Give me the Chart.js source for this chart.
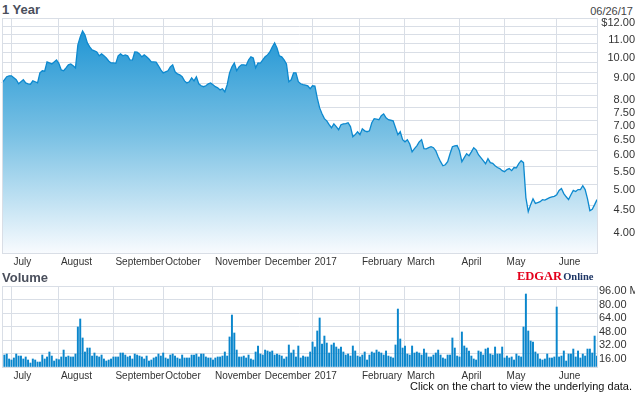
<!DOCTYPE html>
<html>
<head>
<meta charset="utf-8">
<script src="https://cdn.jsdelivr.net/npm/chart.js@4.4.1/dist/chart.umd.min.js"></script>
<style>
    body { margin: 0; background: #fff; font-family: "Liberation Sans", Arial, sans-serif; }
    #wrap { position: relative; width: 635px; height: 395px; overflow: hidden; }
    canvas { position: absolute; left: 0; }
    #priceChart { top: 0; }
    #volChart { top: 270px; }
    .ttl { position: absolute; left: 2px; font: bold 13px/15px "Liberation Sans", Arial, sans-serif; color: #4a4f5c; }
    #date { position: absolute; right: 2px; top: 5px; font: 11px/13px "Liberation Sans", Arial, sans-serif; color: #444; }
    #edgar { position: absolute; left: 517px; top: 268px; font-family: "Liberation Serif", "Times New Roman", serif; font-weight: bold; line-height: 14px; white-space: nowrap; }
    #edgar .e { color: #e3001b; font-size: 12.5px; }
    #edgar .o { color: #1d3565; font-size: 10.5px; margin-left: 1px; }
    #note { position: absolute; right: 3px; top: 380px; font: 11px/13px "Liberation Sans", Arial, sans-serif; color: #111; }
</style>
</head>
<body>
<div id="wrap">
    <div class="ttl" style="top:2px">1 Year</div>
    <div id="date">06/26/17</div>
    <canvas id="priceChart" width="635" height="272"></canvas>
    <div class="ttl" style="top:270px">Volume</div>
    <div id="edgar"><span class="e">EDGAR</span><span class="o">Online</span></div>
    <canvas id="volChart" width="635" height="115"></canvas>
    <div id="note">Click on the chart to view the underlying data.</div>
</div>
<script>
// trading days 06/27/16 - 06/26/17
var holidays = ['2016-07-04', '2016-09-05', '2016-11-24', '2016-12-26', '2017-01-02',
    '2017-01-16', '2017-02-20', '2017-04-14', '2017-05-29'];

var prices = [
    8.54, 8.68, 8.82, 8.86, 8.86, 8.77, 8.68, 8.50, 8.59, 8.68,
    8.54, 8.50, 8.48, 8.63, 8.59, 8.54, 9.00, 9.10, 9.08, 9.53,
    9.48, 9.43, 9.53, 9.63, 9.45, 9.14, 9.10, 9.24, 9.39, 9.43,
    9.34, 9.24, 10.42, 10.87, 11.21, 10.98, 10.53, 10.31, 10.15, 10.10,
    10.04, 9.84, 9.94, 9.84, 9.73, 9.58, 9.48, 9.48, 9.46, 9.84,
    9.94, 9.84, 9.89, 9.84, 9.63, 9.62, 10.04, 10.03, 9.94, 9.79,
    9.89, 9.79, 9.68, 9.53, 9.53, 9.52, 9.34, 9.14, 9.00, 9.05,
    9.10, 9.29, 9.39, 9.05, 8.95, 8.91, 8.82, 8.63, 8.54, 8.59,
    8.77, 8.63, 8.82, 8.50, 8.41, 8.37, 8.41, 8.50, 8.54, 8.46,
    8.37, 8.32, 8.23, 8.28, 8.15, 8.46, 9.00, 9.29, 9.48, 9.10,
    9.29, 9.39, 9.39, 9.36, 9.63, 9.79, 9.73, 9.24, 9.48, 9.47,
    9.63, 9.79, 9.89, 10.04, 10.31, 10.53, 10.26, 9.84, 9.79, 9.63,
    9.43, 8.59, 8.68, 9.00, 9.00, 8.59, 8.50, 8.46, 8.44, 8.41,
    8.28, 8.41, 8.40, 7.88, 7.49, 7.26, 7.08, 7.00, 6.86, 6.75,
    6.89, 6.79, 6.68, 6.86, 6.89, 6.90, 6.93, 6.79, 6.44, 6.51,
    6.61, 6.51, 6.71, 6.64, 6.61, 6.64, 6.93, 7.08, 7.06, 7.04,
    7.19, 7.26, 7.11, 7.04, 7.02, 7.00, 6.75, 6.51, 6.61, 6.34,
    6.27, 6.34, 6.20, 5.95, 6.05, 6.14, 6.27, 6.34, 6.05, 6.04,
    6.08, 6.11, 6.08, 5.98, 5.80, 5.65, 5.53, 5.56, 5.65, 5.89,
    6.11, 6.14, 6.15, 5.98, 5.65, 5.77, 5.89, 5.83, 5.95, 6.08,
    6.01, 5.86, 5.77, 5.68, 5.59, 5.74, 5.62, 5.60, 5.53, 5.48,
    5.45, 5.39, 5.36, 5.42, 5.45, 5.39, 5.48, 5.47, 5.59, 5.68,
    5.62, 4.68, 4.35, 4.51, 4.65, 4.54, 4.56, 4.58, 4.63, 4.62,
    4.65, 4.68, 4.70, 4.71, 4.75, 4.86, 4.91, 4.78, 4.70, 4.63,
    4.75, 4.86, 4.83, 4.88, 4.88, 4.98, 4.88, 4.65, 4.37, 4.40,
    4.51, 4.63
];

// millions of shares
var volumes = [
    15.4, 14.2, 15.4, 9.5, 8.3, 10.7, 15.4, 13.0, 13.0, 9.5,
    11.9, 8.3, 4.7, 9.5, 8.3, 5.9, 5.9, 14.2, 9.5, 11.9,
    17.8, 13.0, 7.1, 9.5, 8.7, 11.9, 20.1, 11.9, 13.0, 11.9,
    11.9, 15.4, 47.4, 56.9, 34.4, 17.8, 22.5, 22.5, 13.0, 16.6,
    13.0, 11.9, 14.2, 9.5, 7.1, 8.3, 9.5, 11.9, 11.9, 11.9,
    16.6, 16.6, 14.2, 11.9, 13.0, 9.5, 15.4, 14.2, 13.0, 11.9,
    9.5, 13.0, 7.1, 8.3, 10.7, 11.9, 15.4, 13.0, 16.6, 10.7,
    9.5, 14.2, 15.4, 13.0, 10.7, 9.5, 14.2, 10.7, 10.7, 10.7,
    14.2, 14.2, 15.4, 11.9, 15.4, 15.4, 11.9, 10.7, 10.7, 8.3,
    10.7, 11.9, 11.9, 13.0, 17.8, 13.0, 35.6, 61.6, 40.3, 20.1,
    11.9, 11.9, 13.0, 10.7, 14.2, 9.5, 8.3, 17.8, 24.9, 15.4,
    14.2, 20.1, 19.0, 17.8, 19.0, 14.2, 15.4, 14.2, 13.0, 9.5,
    11.9, 26.1, 16.6, 20.1, 11.9, 24.9, 10.7, 13.0, 11.9, 11.9,
    17.8, 29.6, 23.7, 42.7, 58.1, 27.3, 36.7, 28.4, 16.6, 26.1,
    28.4, 23.7, 21.3, 23.7, 17.8, 14.2, 15.4, 13.0, 24.9, 19.0,
    13.0, 11.9, 14.2, 17.8, 8.3, 14.2, 17.8, 16.6, 20.1, 17.8,
    16.6, 14.2, 19.0, 13.0, 11.9, 10.7, 26.1, 68.7, 33.2, 22.5,
    24.9, 15.4, 14.2, 24.9, 16.6, 17.8, 16.6, 14.2, 21.3, 16.6,
    11.9, 11.9, 14.2, 16.6, 20.1, 14.2, 10.7, 9.5, 14.2, 14.2,
    34.4, 22.5, 13.0, 11.9, 41.5, 24.9, 22.5, 19.0, 13.0, 9.5,
    8.3, 19.0, 17.8, 14.2, 21.3, 22.5, 15.4, 14.2, 23.7, 15.4,
    15.4, 23.7, 10.7, 13.0, 10.7, 11.9, 8.3, 15.4, 13.0, 11.9,
    47.4, 86.5, 42.7, 30.8, 29.6, 17.8, 15.4, 9.5, 8.3, 9.5,
    15.4, 10.7, 10.7, 11.9, 71.1, 11.9, 13.0, 19.0, 7.1, 15.4,
    15.4, 21.3, 11.9, 19.0, 10.7, 15.4, 13.0, 21.3, 21.3, 16.6,
    36.7, 13.0
];

var monthNames = ['January', 'February', 'March', 'April', 'May', 'June', 'July',
    'August', 'September', 'October', 'November', 'December'];
var priceGrid = [4, 4.5, 5, 5.5, 6, 6.5, 7, 7.5, 8, 8.5, 9, 9.5, 10, 10.5, 11, 11.5, 12];
var priceLabeled = [4, 4.5, 5, 5.5, 6, 6.5, 7, 7.5, 8, 9, 10, 11, 12];
var volGrid = [0, 16, 32, 48, 64, 80, 96];

var GRID = '#d9dee6';
var LINE = '#0d89cf';

var days = [];
(function () {
    var t = Date.UTC(2016, 5, 27);
    var end = Date.UTC(2017, 5, 26);
    for (; t <= end; t += 86400000) {
        var d = new Date(t);
        var iso = d.toISOString().slice(0, 10);
        if (d.getUTCDay() === 0 || d.getUTCDay() === 6 || holidays.indexOf(iso) >= 0) continue;
        days.push(iso);
    }
})();

var monthStarts = [];
days.forEach(function (d, i) {
    if (i > 0 && d.slice(5, 7) !== days[i - 1].slice(5, 7)) monthStarts.push(i);
});

function monthLabel(value) {
    var d = days[value];
    var m = parseInt(d.slice(5, 7), 10) - 1;
    return m === 0 ? d.slice(0, 4) : monthNames[m];
}

function monthTicks(scale) {
    scale.ticks = monthStarts.map(function (i) { return { value: i }; });
}

var frame = {
    id: 'frame',
    afterDatasetsDraw: function (chart) {
        var a = chart.chartArea, c = chart.ctx;
        c.save();
        c.strokeStyle = GRID;
        c.lineWidth = 1;
        c.strokeRect(a.left + 0.5, a.top + 0.5, a.right - a.left, a.bottom - a.top);
        c.restore();
    }
};

function areaFill(ctx) {
    var area = ctx.chart.chartArea;
    if (!area) return 'rgba(0,0,0,0)';
    var g = ctx.chart.ctx.createLinearGradient(0, area.top, 0, area.bottom);
    g.addColorStop(0, '#1590d2');
    g.addColorStop(0.5, '#7ac1e4');
    g.addColorStop(1, '#f8fbfe');
    return g;
}

var xFont = { family: '"Liberation Sans", Arial, sans-serif', size: 10 };
var yFont = { family: '"Liberation Sans", Arial, sans-serif', size: 11 };

function xAxis(h) {
    return {
        offset: false,
        afterBuildTicks: monthTicks,
        afterFit: function (s) { s.height = h; },
        grid: { color: GRID, drawTicks: false, offset: false },
        border: { color: GRID },
        ticks: {
            autoSkip: false, maxRotation: 0, align: 'start', labelOffset: 2, padding: 3,
            font: xFont, color: '#333', callback: monthLabel
        }
    };
}

new Chart(document.getElementById('priceChart'), {
    type: 'line',
    data: {
        labels: days,
        datasets: [{
            data: prices,
            borderColor: LINE,
            borderWidth: 1.3,
            pointRadius: 0,
            tension: 0,
            fill: 'start',
            backgroundColor: areaFill
        }]
    },
    options: {
        responsive: false,
        animation: false,
        devicePixelRatio: 1,
        layout: { padding: { top: 18, left: 2, right: 0, bottom: 0 } },
        plugins: { legend: { display: false }, tooltip: { enabled: false } },
        scales: {
            x: xAxis(19),
            y: {
                type: 'logarithmic',
                position: 'right',
                min: 3.5,
                max: 12,
                afterBuildTicks: function (s) {
                    s.ticks = priceGrid.map(function (v) { return { value: v }; });
                },
                afterFit: function (s) { s.width = 38; },
                grid: { color: GRID, drawTicks: false },
                border: { color: GRID },
                ticks: {
                    autoSkip: false, crossAlign: 'far', padding: 2, labelOffset: 5,
                    font: yFont, color: '#333',
                    callback: function (v) {
                        if (priceLabeled.indexOf(v) < 0) return '';
                        return v === 12 ? '$12.00' : v.toFixed(2);
                    }
                }
            }
        }
    },
    plugins: [frame]
});

new Chart(document.getElementById('volChart'), {
    type: 'bar',
    data: {
        labels: days,
        datasets: [{
            data: volumes,
            backgroundColor: '#0a86cc',
            barThickness: 1.3
        }]
    },
    options: {
        responsive: false,
        animation: false,
        devicePixelRatio: 1,
        layout: { padding: { top: 16, left: 2, right: 0, bottom: 0 } },
        plugins: { legend: { display: false }, tooltip: { enabled: false } },
        scales: {
            x: xAxis(18),
            y: {
                position: 'right',
                min: 0,
                max: 96,
                afterBuildTicks: function (s) {
                    s.ticks = volGrid.map(function (v) { return { value: v }; });
                },
                afterFit: function (s) { s.width = 38; },
                grid: { color: GRID, drawTicks: false },
                border: { color: GRID },
                ticks: {
                    autoSkip: false, crossAlign: 'near', padding: 2, labelOffset: 5,
                    font: yFont, color: '#333',
                    callback: function (v) {
                        if (v === 0) return '';
                        return v === 96 ? '96.00 M' : v.toFixed(2);
                    }
                }
            }
        }
    },
    plugins: [frame]
});
</script>
</body>
</html>
